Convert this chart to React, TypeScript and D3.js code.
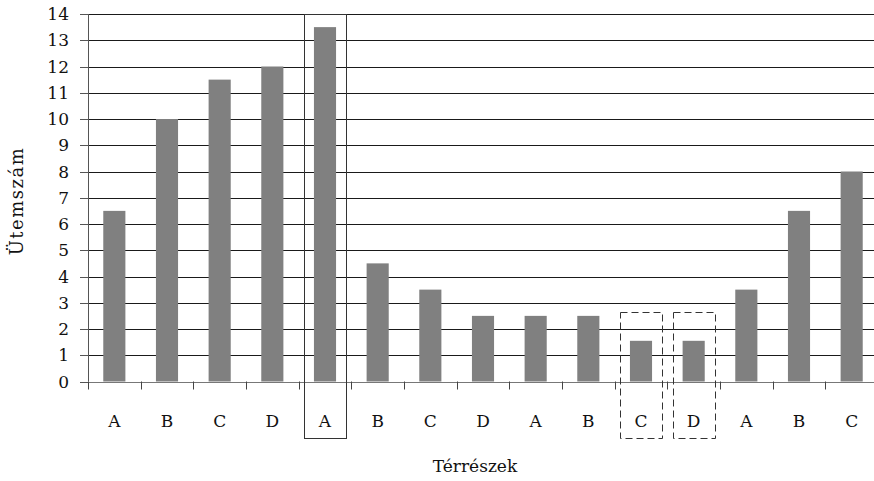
import React from "react";
import * as d3 from "d3";

const categories = ["A", "B", "C", "D", "A", "B", "C", "D", "A", "B", "C", "D", "A", "B", "C"];
const values = [6.5, 10, 11.5, 12, 13.5, 4.5, 3.5, 2.5, 2.5, 2.5, 1.55, 1.55, 3.5, 6.5, 8];
const yTicks = [0, 1, 2, 3, 4, 5, 6, 7, 8, 9, 10, 11, 12, 13, 14];
const solidBoxIdx = [4];
const dashedBoxIdx = [10, 11];
const yTitle = "Ütemszám";
const xTitle = "Térrészek";

const W = 874;
const H = 481;
const left = 88;
const right = 878;
const top = 14;
const bottom = 381.5;
const FONT = "DejaVu Serif, serif";

export default function App() {
  const idx = categories.map((_, i) => i);
  const x = d3.scaleBand<number>().domain(idx).range([left, right]).paddingInner(0).paddingOuter(0);
  const y = d3.scaleLinear().domain([0, 14]).range([bottom, top]);
  const bw = x.bandwidth();
  const barW = bw * 0.42;
  const boxW = 42;
  const boxBottom = 438;

  return (
    <svg
      width={W}
      height={H}
      style={{ position: "absolute", left: 0, top: 0, background: "#fff" }}
      fontFamily={FONT}
    >
      {yTicks.map((t) => (
        <g key={t}>
          {t > 0 && (
            <line x1={left} x2={right} y1={Math.round(y(t)) + 0.5} y2={Math.round(y(t)) + 0.5} stroke="#1a1a1a" strokeWidth={1} />
          )}
          <line x1={left - 8} x2={left} y1={Math.round(y(t)) + 0.5} y2={Math.round(y(t)) + 0.5} stroke="#555" strokeWidth={1} />
          <text x={69} y={y(t)} dy="0.36em" textAnchor="end" fontSize={17} fill="#111">
            {t}
          </text>
        </g>
      ))}
      {values.map((v, i) => (
        <rect
          key={i}
          x={(x(i) as number) + (bw - barW) / 2}
          y={y(v)}
          width={barW}
          height={y(0) - y(v)}
          fill="#808080"
        />
      ))}
      <line x1={left + 0.5} x2={left + 0.5} y1={top} y2={bottom} stroke="#555" strokeWidth={1} />
      <line x1={left} x2={right} y1={Math.round(bottom) + 0.5} y2={Math.round(bottom) + 0.5} stroke="#777" strokeWidth={1} />
      {d3.range(categories.length + 1).map((i) => {
        const xx = Math.round(left + i * bw) + 0.5;
        return <line key={i} x1={xx} x2={xx} y1={bottom} y2={bottom + 8} stroke="#444" strokeWidth={1} />;
      })}
      {categories.map((c, i) => (
        <text key={i} x={(x(i) as number) + bw / 2} y={421} dy="0.36em" textAnchor="middle" fontSize={17} fill="#111">
          {c}
        </text>
      ))}
      {solidBoxIdx.map((i) => (
        <rect
          key={"s" + i}
          x={Math.round((x(i) as number) + bw / 2 - boxW / 2) + 0.5}
          y={top + 0.5}
          width={boxW}
          height={boxBottom - top}
          fill="none"
          stroke="#333"
          strokeWidth={1}
        />
      ))}
      {dashedBoxIdx.map((i) => (
        <rect
          key={"d" + i}
          x={Math.round((x(i) as number) + bw / 2 - boxW / 2) + 0.5}
          y={312.5}
          width={boxW}
          height={boxBottom - 312}
          fill="none"
          stroke="#333"
          strokeWidth={1}
          strokeDasharray="7,4"
        />
      ))}
      <text
        transform={`translate(17,201) rotate(-90)`}
        textAnchor="middle"
        dy="0.36em"
        fontSize={18}
        letterSpacing={1.5}
        fill="#111"
      >
        {yTitle}
      </text>
      <text x={475} y={466} textAnchor="middle" dy="0.36em" fontSize={17} fill="#111">
        {xTitle}
      </text>
    </svg>
  );
}
